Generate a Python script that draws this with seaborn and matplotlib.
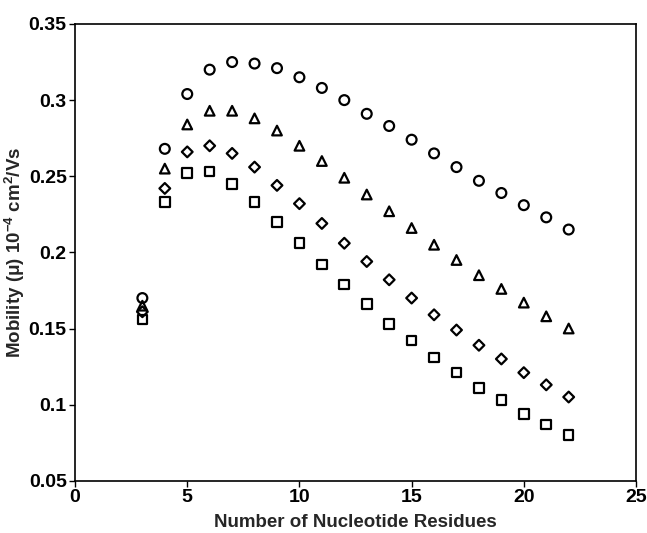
import numpy as np
import pandas as pd
import matplotlib
matplotlib.use('Agg')
import matplotlib.pyplot as plt
import seaborn as sns

residues = list(range(3, 23))
circles = [0.170, 0.268, 0.304, 0.320, 0.325, 0.324, 0.321, 0.315, 0.308, 0.300,
           0.291, 0.283, 0.274, 0.265, 0.256, 0.247, 0.239, 0.231, 0.223, 0.215]
triangles = [0.165, 0.255, 0.284, 0.293, 0.293, 0.288, 0.280, 0.270, 0.260, 0.249,
             0.238, 0.227, 0.216, 0.205, 0.195, 0.185, 0.176, 0.167, 0.158, 0.150]
diamonds = [0.161, 0.242, 0.266, 0.270, 0.265, 0.256, 0.244, 0.232, 0.219, 0.206,
            0.194, 0.182, 0.170, 0.159, 0.149, 0.139, 0.130, 0.121, 0.113, 0.105]
squares = [0.156, 0.233, 0.252, 0.253, 0.245, 0.233, 0.220, 0.206, 0.192, 0.179,
           0.166, 0.153, 0.142, 0.131, 0.121, 0.111, 0.103, 0.094, 0.087, 0.080]

sns.set_style('white')
plt.rcParams['font.family'] = ['Liberation Sans', 'DejaVu Sans']
plt.rcParams['font.weight'] = 'bold'
plt.rcParams['mathtext.fontset'] = 'custom'
plt.rcParams['mathtext.rm'] = 'Liberation Sans:bold'
plt.rcParams['mathtext.default'] = 'rm'

df = pd.concat([
    pd.DataFrame({'n': residues, 'mobility': circles, 'set': 'circle'}),
    pd.DataFrame({'n': residues, 'mobility': triangles, 'set': 'triangle'}),
    pd.DataFrame({'n': residues, 'mobility': diamonds, 'set': 'diamond'}),
    pd.DataFrame({'n': residues, 'mobility': squares, 'set': 'square'}),
])

fig = plt.figure(figsize=(6.47, 5.33), dpi=100)
ax = fig.add_axes([0.116, 0.098, 0.867, 0.857])

sizes = {'circle': 50, 'triangle': 48, 'diamond': 30, 'square': 48}
markers = {'circle': 'o', 'triangle': '^', 'diamond': 'D', 'square': 's'}
for name, grp in df.groupby('set', sort=False):
    sns.scatterplot(data=grp, x='n', y='mobility', marker=markers[name], s=sizes[name],
                    facecolors='none', edgecolor='black', linewidth=1.6, ax=ax, legend=False)

ax.set_xlim(0, 25)
ax.set_ylim(0.05, 0.35)
ax.set_xticks([0, 5, 10, 15, 20, 25])
ax.set_yticks([0.05, 0.1, 0.15, 0.2, 0.25, 0.3, 0.35])
ax.set_yticklabels(['0.05', '0.1', '0.15', '0.2', '0.25', '0.3', '0.35'])
ax.tick_params(axis='both', direction='out', length=4, width=1, labelsize=14,
               bottom=True, left=True, colors='black', pad=2)
for lab in ax.get_xticklabels() + ax.get_yticklabels():
    lab.set_fontweight('bold')
for sp in ax.spines.values():
    sp.set_color('black')
    sp.set_linewidth(1.2)

ax.set_xlabel('Number of Nucleotide Residues', fontsize=13.5, fontweight='bold', labelpad=6)
ax.set_ylabel('Mobility (μ) 10$^{-4}$ cm$^{2}$/Vs', fontsize=13.5, fontweight='bold', labelpad=1)

fig.savefig('out.png', dpi=100)
